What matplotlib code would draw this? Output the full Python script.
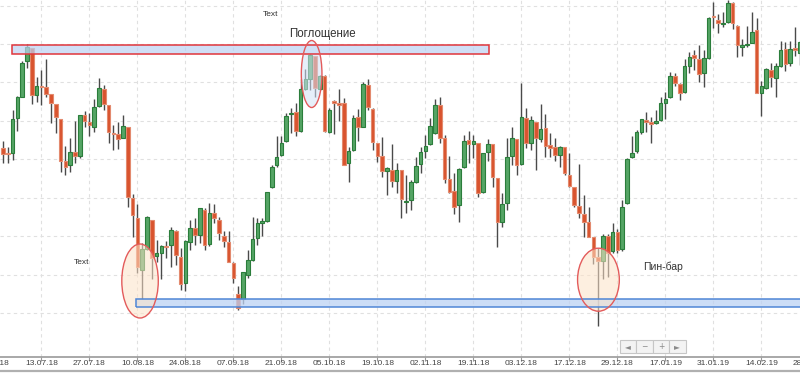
import matplotlib
matplotlib.use("Agg")
import matplotlib.pyplot as plt
from matplotlib.patches import Rectangle, Ellipse
from matplotlib.lines import Line2D
import matplotlib.transforms as mtransforms

# ---- data (price units) ----
opens = [228,223,223,258,279,315,328,281,290,289,
         282,272,257,215,211,224,220,261,254,249,
         270,287,271,243,242,238,249,178,158,106,
         127,156,120,123,130,131,145,119,93,134,
         148,141,166,132,163,156,140,134,113,82,
         77,101,116,138,153,155,189,211,221,235,
         262,264,245,287,297,320,287,300,244,275,
         273,273,213,226,259,249,291,267,233,220,
         205,206,195,206,174,176,194,212,225,232,
         243,271,238,197,185,171,209,236,232,233,
         184,224,232,198,154,173,220,237,212,258,
         233,254,237,248,231,229,221,229,201,189,
         170,162,154,139,119,115,140,125,144,127,
         173,219,225,244,256,254,253,256,273,279,
         300,292,284,310,321,317,303,318,360,356,
         352,354,373,350,329,331,333,346,283,288,
         306,298,310,327,313,328,323]
highs = [235,229,266,280,315,332,328,299,306,317,
         282,272,257,230,238,255,261,265,263,277,
         298,291,271,251,254,261,249,182,172,133,
         160,156,136,131,135,149,146,128,136,156,
         158,168,168,173,172,159,145,145,114,90,
         104,126,159,158,158,184,211,240,240,263,
         268,273,297,307,322,320,301,301,268,276,
         287,278,229,261,267,294,297,268,233,239,
         209,232,213,206,201,196,219,229,241,258,
         277,279,241,220,203,208,241,245,241,233,
         223,237,232,198,183,238,249,237,293,268,
         260,254,272,262,243,238,230,229,223,189,
         212,181,169,139,128,142,142,153,147,176,
         218,240,246,257,264,259,266,279,284,304,
         303,293,317,324,326,331,326,359,374,362,
         364,376,374,351,337,350,364,358,295,308,
         313,313,335,334,335,349,335]
lows = [213,213,216,245,279,308,272,274,271,279,
        253,243,204,201,204,213,218,249,240,244,
        269,266,233,226,227,238,169,139,103,77,
        126,97,114,97,118,109,111,86,85,126,
        131,133,126,130,153,136,129,114,93,66,
        72,98,115,131,140,154,188,209,220,234,
        243,240,244,286,286,279,286,244,243,242,
        255,211,194,225,235,249,266,226,214,199,
        181,189,183,158,163,166,193,203,218,231,
        242,233,193,183,162,154,208,213,218,179,
        183,215,189,129,149,166,211,201,211,228,
        226,206,234,219,219,215,209,201,189,169,
        158,139,139,112,50,97,99,123,123,125,
        172,218,223,242,244,233,252,255,257,278,
        290,276,283,303,306,294,289,317,348,343,
        349,353,347,319,320,329,333,283,260,287,
        289,279,309,305,310,320,311]
closes = [222,222,257,279,313,329,281,290,289,282,
          273,259,215,209,224,220,261,255,251,269,
          288,272,244,242,237,250,179,161,109,127,
          159,118,123,130,129,146,121,92,135,148,
          141,168,131,163,158,143,135,114,98,68,
          104,116,137,153,155,184,209,219,233,260,
          263,245,287,297,321,288,300,245,266,273,
          271,211,225,258,249,292,269,234,220,205,
          208,195,206,177,175,194,210,224,230,250,
          271,238,197,184,169,207,235,232,235,183,
          223,232,199,154,172,219,238,211,259,233,
          256,238,247,230,228,221,229,203,190,171,
          163,154,139,119,115,140,123,144,126,169,
          217,223,244,257,254,252,255,273,277,300,
          293,283,310,319,318,302,318,358,359,353,
          353,373,353,331,331,332,344,283,290,307,
          299,310,326,312,327,326,334]

tick_bars = [-2, 8, 18, 28, 38, 48, 58, 68, 78, 88, 98, 108, 118, 128, 138, 148, 158, 168]
tick_labels = ["29.06.18", "13.07.18", "27.07.18", "10.08.18", "24.08.18", "07.09.18",
               "21.09.18", "05.10.18", "19.10.18", "02.11.18", "19.11.18", "03.12.18",
               "17.12.18", "29.12.18", "17.01.19", "31.01.19", "14.02.19", "28.02.19"]
grid_levels = [63, 101.4, 139.9, 178.3, 216.7, 255.2, 293.6, 332, 370.4]

resistance_zone = (1.9, 101.25, 322, 331)   # bar from, bar to, price low, price high
support_zone = (27.7, 166.5, 69, 77)
annotations = [("Text", 55.8, 362, 6.0), ("Поглощение", 66.5, 342, 8.3),
               ("Text", 16.3, 113, 6.0), ("Пин-бар", 137.5, 109, 7.5)]
ellipses = [(28.55, 95, 7.6, 74, "#fde3c8"), (64.3, 302, 4.3, 67, "#d3e2f7"),
            (124.05, 96.3, 8.7, 63, "#fde3c8")]

plt.rcParams['font.family'] = ['Liberation Sans', 'DejaVu Sans']

fig = plt.figure(figsize=(8, 3.76), dpi=100)
fig.patch.set_facecolor("white")
ax = fig.add_axes([0, 19 / 376, 1, 357 / 376])
ax.set_facecolor("white")

n = len(opens)
xs = list(range(n))

ax.set_xlim(-0.625, 166.04)
ax.set_ylim(19, 376)

# grid
for g in grid_levels:
    ax.axhline(g, color="#e0e0e0", lw=0.8, ls=(0, (3, 3)), zorder=0)
for t in tick_bars:
    ax.axvline(t, color="#e0e0e0", lw=0.8, ls=(0, (3, 3)), zorder=0)

# candles
green_fill, green_edge = "#55a565", "#2b7d3b"
red_fill, red_edge = "#d9532e", "#e38a6e"
for i in xs:
    o, h, l, c = opens[i], highs[i], lows[i], closes[i]
    up = c >= o
    ax.vlines(i, l, h, color="#4a4a4a", lw=1.0, zorder=2)
    lo = min(o, c)
    hgt = max(abs(c - o), 1.6)
    ax.bar(i, hgt, bottom=lo - (hgt - abs(c - o)) / 2, width=0.72,
           color=green_fill if up else red_fill,
           edgecolor=green_edge if up else red_edge, linewidth=0.8, zorder=3)

# zones
x0, x1, y0, y1 = resistance_zone
ax.add_patch(Rectangle((x0, y0), x1 - x0, y1 - y0, facecolor="#bcd2f3", alpha=0.7,
                       edgecolor="none", zorder=4))
ax.add_patch(Rectangle((x0, y0), x1 - x0, y1 - y0, facecolor="none",
                       edgecolor="#e0363c", lw=1.1, zorder=5))
x0, x1, y0, y1 = support_zone
ax.add_patch(Rectangle((x0, y0), x1 - x0, y1 - y0, facecolor="#bcd2f3", alpha=0.75,
                       edgecolor="none", zorder=4))
ax.add_patch(Rectangle((x0, y0), x1 - x0, y1 - y0, facecolor="none",
                       edgecolor="#4f86d6", lw=1.1, zorder=5))

for cx, cy, w, h, fc in ellipses:
    ax.add_patch(Ellipse((cx, cy), w, h, facecolor=fc, alpha=0.55, edgecolor="none", zorder=4))
    ax.add_patch(Ellipse((cx, cy), w, h, facecolor="none", edgecolor="#e35b5b", lw=1.0, zorder=5))

for txt, x, y, fs in annotations:
    ax.text(x, y, txt, ha="center", va="center", fontsize=fs, color="#333333", zorder=6)

# axes / ticks
for s in ["top", "left", "right"]:
    ax.spines[s].set_visible(False)
ax.spines["bottom"].set_color("#9a9a9a")
ax.spines["bottom"].set_linewidth(1.2)
ax.set_yticks([])
inside = [t for t in tick_bars if -0.625 <= t <= 166.04]
ax.set_xticks(inside)
ax.set_xticklabels([])
ax.tick_params(axis="x", length=3, color="#9a9a9a", width=0.8)
trans = mtransforms.blended_transform_factory(ax.transData, ax.transAxes)
for t, lab in zip(tick_bars, tick_labels):
    ax.annotate(lab, xy=(t, 0), xycoords=trans, xytext=(0, -2.0), textcoords="offset points",
                ha="center", va="top", fontsize=6.0, color="#444444", annotation_clip=False)

# bottom border line
fig.add_artist(Line2D([0, 1], [5 / 376, 5 / 376], transform=fig.transFigure,
                      color="#b0b0b0", lw=1.6))

# navigation buttons
bx0, by_top, bw, bh = 620, 340, 16.4, 13
symbols = ["◄", "−", "+", "►"]
for k, sym in enumerate(symbols):
    xl = bx0 + k * bw
    fig.add_artist(Rectangle((xl / 800, (376 - by_top - bh) / 376), bw / 800, bh / 376,
                             transform=fig.transFigure, facecolor="#f3f3f3",
                             edgecolor="#c6c6c6", lw=0.8))
    fig.text((xl + bw / 2) / 800, (376 - by_top - bh / 2) / 376, sym, ha="center", va="center",
             fontsize=5.5, color="#8a8a8a", family=["DejaVu Sans"])

fig.savefig("out.png", dpi=100, facecolor="white")
